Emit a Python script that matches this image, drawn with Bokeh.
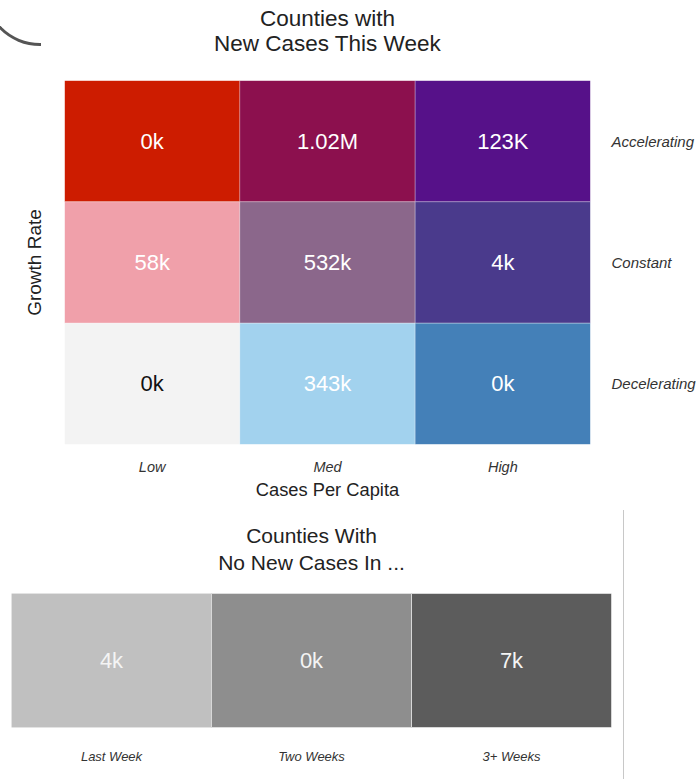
from bokeh.plotting import figure
from bokeh.models import ColumnDataSource, Title, Div
from bokeh.layouts import column, row
from bokeh.embed import file_html
from bokeh.resources import INLINE
from bokeh.core.properties import value

# ---------------- data ----------------
per_capita = ["Low", "Med", "High"]
growth = ["Decelerating", "Constant", "Accelerating"]

acc_labels = ["0k", "1.02M", "123K"]
con_labels = ["58k", "532k", "4k"]
dec_labels = ["0k", "343k", "0k"]

acc_colors = ["#cd1c00", "#8c104e", "#561189"]
con_colors = ["#f0a0aa", "#8b678b", "#4a3a8c"]
dec_colors = ["#f3f3f3", "#a2d2ee", "#4480b8"]

no_new_cats = ["Last Week", "Two Weeks", "3+ Weeks"]
no_new_labels = ["4k", "0k", "7k"]
no_new_colors = ["#c0c0c0", "#8e8e8e", "#5c5c5c"]

FONT = "Liberation Sans"

# ---------------- top heatmap ----------------
xs, ys, labs, cols, tcols = [], [], [], [], []
for g, labels, colors in (("Accelerating", acc_labels, acc_colors),
                          ("Constant", con_labels, con_colors),
                          ("Decelerating", dec_labels, dec_colors)):
    for c, l, col in zip(per_capita, labels, colors):
        xs.append(c)
        ys.append(g)
        labs.append(l)
        cols.append(col)
        tcols.append("#111111" if col == "#f3f3f3" else "#ffffff")
src = ColumnDataSource(dict(x=xs, y=ys, label=labs, color=cols, tcolor=tcols))

p = figure(width=698, height=505, x_range=per_capita, y_range=growth,
           output_backend="svg", toolbar_location=None,
           y_axis_location="right",
           min_border_left=64, min_border_right=106,
           min_border_top=80, min_border_bottom=61)
p.title = None
p.grid.visible = False
p.outline_line_color = None

p.rect(x="x", y="y", width=1, height=1, fill_color="color",
       line_color="#ffffff", line_alpha=0.25, line_width=1, source=src)
p.text(x="x", y="y", text="label", text_color="tcolor", text_align="center",
       text_baseline="middle", text_font=value(FONT), text_font_size="22px",
       source=src)

for ax in (p.xaxis[0], p.yaxis[0]):
    ax.axis_line_color = None
    ax.major_tick_line_color = None
    ax.minor_tick_line_color = None
    ax.major_label_text_font = FONT
    ax.major_label_text_font_style = "italic"
    ax.major_label_text_color = "#333333"

p.yaxis[0].major_label_text_font_size = "15px"
p.yaxis[0].major_label_standoff = 15
p.xaxis[0].major_label_text_font_size = "14.5px"
p.xaxis[0].major_label_standoff = 8
p.xaxis[0].axis_label = "Cases Per Capita"
p.xaxis[0].axis_label_text_font = FONT
p.xaxis[0].axis_label_text_font_style = "normal"
p.xaxis[0].axis_label_text_font_size = "18.3px"
p.xaxis[0].axis_label_text_color = "#222222"
p.xaxis[0].axis_label_standoff = 1

p.add_layout(Title(text="Growth Rate", align="center", text_font=FONT,
                   text_font_size="19px", text_font_style="normal",
                   text_color="#222222", standoff=39), "left")

p.add_layout(Title(text="New Cases This Week", align="center",
                   text_font=FONT, text_font_size="22.5px",
                   text_font_style="normal", text_color="#222222",
                   standoff=50), "above")
p.add_layout(Title(text="Counties with", align="center",
                   text_font=FONT, text_font_size="22.5px",
                   text_font_style="normal", text_color="#222222",
                   standoff=-54), "above")

# ---------------- bottom strip ----------------
bsrc = ColumnDataSource(dict(x=no_new_cats, y=["n"] * 3, label=no_new_labels,
                             color=no_new_colors))
b = figure(width=620, height=274, x_range=no_new_cats, y_range=["n"],
           output_backend="svg", toolbar_location=None,
           y_axis_location=None,
           min_border_left=11, min_border_right=9,
           min_border_top=88, min_border_bottom=52)
b.title = None
b.grid.visible = False
b.outline_line_color = None
b.rect(x="x", y="y", width=1, height=1, fill_color="color",
       line_color="#d8d8d8", line_width=1, source=bsrc)
b.text(x="x", y="y", text="label", text_color="#f4f4f4", text_align="center",
       text_baseline="middle", text_font=value(FONT), text_font_size="22px",
       source=bsrc)
bx = b.xaxis[0]
bx.axis_line_color = None
bx.major_tick_line_color = None
bx.minor_tick_line_color = None
bx.major_label_text_font = FONT
bx.major_label_text_font_style = "italic"
bx.major_label_text_font_size = "13px"
bx.major_label_text_color = "#333333"
bx.major_label_standoff = 15

b.add_layout(Title(text="No New Cases In ...", align="center",
                   text_font=FONT, text_font_size="21px",
                   text_font_style="normal", text_color="#222222",
                   standoff=39), "above")
b.add_layout(Title(text="Counties With", align="center",
                   text_font=FONT, text_font_size="21px",
                   text_font_style="normal", text_color="#222222",
                   standoff=-35), "above")

vline = Div(text="", width=1, height=269, margin=(5, 0, 0, 3),
            styles={"border-left": "1px solid #c8c8c8"})

# decorative arc in the page's top-left corner (page chrome, not data)
arc_html = ('<div style="position:absolute;left:0;top:0;width:41px;height:50px;'
            'overflow:hidden;z-index:10;pointer-events:none;">'
            '<div style="position:absolute;left:-17px;top:-68.5px;width:114px;'
            'height:114px;box-sizing:border-box;border-radius:50%;'
            'border:3px solid transparent;border-bottom-color:#555555;'
            'border-left-color:#555555;"></div></div>')
arc = Div(text=arc_html, width=0, height=0, margin=0,
          styles={"overflow": "visible"})

layout = column(arc, p, row(b, vline, spacing=0), spacing=0)

open("out.html", "w").write(file_html(layout, INLINE))
